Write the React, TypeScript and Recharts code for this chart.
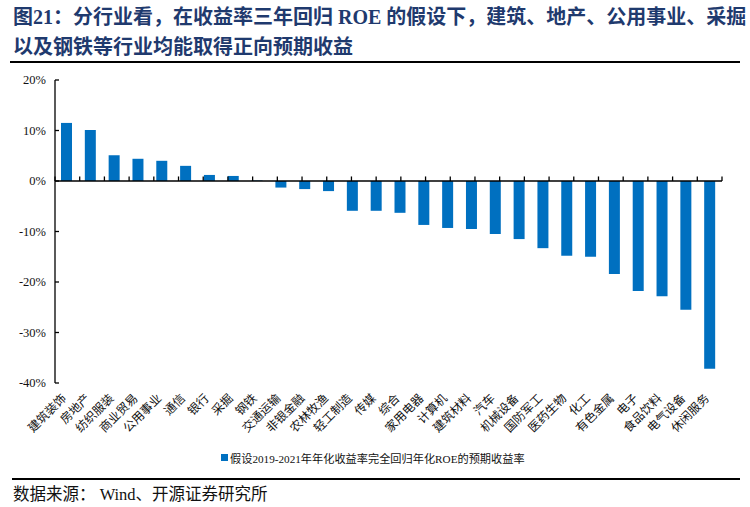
import React from "react";
import { BarChart, Bar, XAxis, YAxis, ReferenceLine, Legend } from "recharts";

const categories = [
  "建筑装饰", "房地产", "纺织服装", "商业贸易", "公用事业", "通信", "银行", "采掘", "钢铁",
  "交通运输", "非银金融", "农林牧渔", "轻工制造", "传媒", "综合", "家用电器", "计算机",
  "建筑材料", "汽车", "机械设备", "国防军工", "医药生物", "化工", "有色金属", "电子",
  "食品饮料", "电气设备", "休闲服务",
];
const values = [
  11.5, 10.1, 5.1, 4.4, 4.0, 3.0, 1.2, 1.0, 0.1,
  -1.3, -1.6, -2.0, -5.9, -5.9, -6.3, -8.7, -9.3,
  -9.5, -10.5, -11.5, -13.3, -14.8, -15.0, -18.4, -21.8,
  -22.8, -25.5, -37.2,
];
const yTicks = [-40, -30, -20, -10, 0, 10, 20];
const seriesName = "假设2019-2021年年化收益率完全回归年化ROE的预期收益率";
const titleLines = [
  "图21：分行业看，在收益率三年回归 ROE 的假设下，建筑、地产、公用事业、采掘",
  "以及钢铁等行业均能取得正向预期收益",
];
const sourceText = "数据来源： Wind、开源证券研究所";

const data = categories.map((name, i) => ({ name, value: values[i] }));
const boundaries = Array.from({ length: categories.length + 1 }, (_, k) => k);

const FONT = "'Liberation Serif', 'Times New Roman', 'Noto Sans CJK SC', serif";
const BLUE = "#0070C0";

const XTick = (props: any) => {
  const { x, y, payload } = props;
  return (
    <g transform={`translate(${x},${y + 16})`}>
      <text x={0} y={0} textAnchor="end" transform="rotate(-45)" fontSize={12} fill="#111" fontFamily={FONT}>
        {payload.value}
      </text>
    </g>
  );
};

const YTick = (props: any) => {
  const { x, y, payload } = props;
  return (
    <g>
      <text x={x} y={y} dy={4} textAnchor="end" fontSize={12.5} fill="#111" fontFamily={FONT}>
        {`${payload.value}%`}
      </text>
      <line x1={x + 9} x2={x + 13} y1={y} y2={y} stroke="#000" strokeWidth={1.3} />
    </g>
  );
};

const LegendContent = () => (
  <div style={{ display: "flex", alignItems: "center", height: 25, marginLeft: 221, fontFamily: FONT, fontSize: 11.2, color: "#111", whiteSpace: "nowrap" }}>
    <span style={{ display: "inline-block", width: 7, height: 7, background: BLUE, marginRight: 2 }} />
    <span>{seriesName}</span>
  </div>
);

export default function App() {
  return (
    <div style={{ position: "absolute", left: 0, top: 0, width: 750, height: 507, background: "#fff", overflow: "hidden" }}>
      <div style={{ position: "absolute", left: 13, top: 2, width: 737, fontFamily: FONT, fontWeight: 700, fontSize: 20, lineHeight: "30px", color: "#1F3A6E", whiteSpace: "nowrap" }}>
        {titleLines.map((t, i) => (
          <div key={i}>{t}</div>
        ))}
      </div>
      <div style={{ position: "absolute", left: 10, top: 61, width: 730, height: 2, background: "#000" }} />
      <div style={{ position: "absolute", left: 0, top: 0 }}>
        <BarChart width={750} height={470} data={data} margin={{ top: 80, right: 28, bottom: 0, left: 10 }}>
          <XAxis dataKey="name" interval={0} axisLine={false} tickLine={false} tickSize={0} tickMargin={0} height={62} tick={<XTick />} />
          <XAxis xAxisId="grid" type="number" domain={[0, categories.length]} hide allowDataOverflow />
          <YAxis
            domain={[-40, 20]}
            ticks={yTicks}
            width={45}
            tickSize={0}
            tickMargin={9}
            tickLine={false}
            axisLine={{ stroke: "#000", strokeWidth: 1.3 }}
            tick={<YTick />}
            interval={0}
          />
          <Bar dataKey="value" name={seriesName} fill={BLUE} barSize={11} isAnimationActive={false} />
          <ReferenceLine y={0} stroke="#000" strokeWidth={1.5} />
          {boundaries.map((k) => (
            <ReferenceLine
              key={k}
              xAxisId="grid"
              segment={[{ x: k, y: 0 }, { x: k, y: 0.9 }]}
              stroke="#000"
              strokeWidth={1.3}
            />
          ))}
          <Legend verticalAlign="bottom" height={25} content={<LegendContent />} wrapperStyle={{ left: 0, width: 750 }} />
        </BarChart>
      </div>
      <div style={{ position: "absolute", left: 12, top: 478, width: 728, height: 2, background: "#000" }} />
      <div style={{ position: "absolute", left: 13, top: 485, fontFamily: FONT, fontSize: 16.5, lineHeight: "20px", color: "#111", whiteSpace: "nowrap" }}>
        {sourceText}
      </div>
    </div>
  );
}
